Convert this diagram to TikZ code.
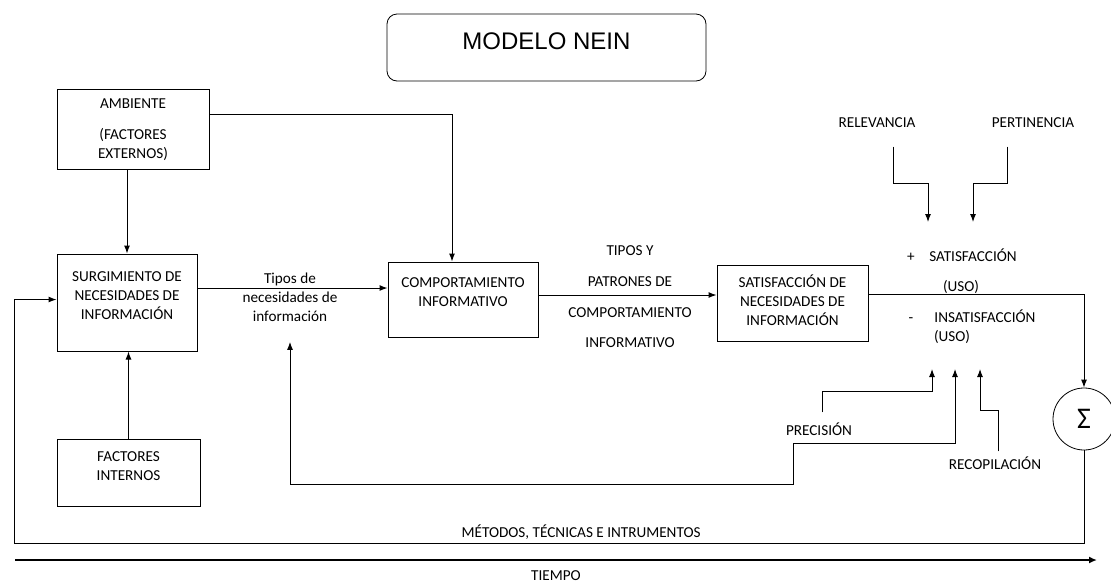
\documentclass[tikz,border=0pt]{standalone}
\usepackage{fontspec}
\setmainfont{Carlito}
\newfontfamily\arialfont{Liberation Sans}
\usepackage{tikz}
\usetikzlibrary{arrows.meta, shapes}

\newcommand{\boxfont}{\fontsize{15.2}{19}\selectfont}

\begin{document}
\begin{tikzpicture}[node distance=2cm, auto]
\tikzstyle{block} = [rectangle, draw, line width=1pt, align=center, font=\boxfont]
\tikzstyle{txt} = [align=center, font=\boxfont]
\tikzstyle{lbl} = [font=\boxfont, text height=10pt, text depth=2pt]
\tikzstyle{line} = [draw, line width=1pt, -{Latex[length=8pt, width=6pt]}]
\tikzstyle{title} = [rectangle, draw, line width=0.8pt, rounded corners=10pt,
    minimum width=319pt, minimum height=67pt, text depth=13pt,
    font=\arialfont\fontsize{24}{28}\selectfont]

\useasboundingbox (0,0) rectangle (1111pt,-582pt);

 \node [title] (titulo) at (546.5pt,-47.5pt) {MODELO NEIN};

 \node [block, minimum width=152pt, minimum height=80pt, text depth=-5pt] (amb) at (133pt,-129pt)
    {AMBIENTE\\[12pt](FACTORES\\EXTERNOS)};
 \node [block, below of=amb, node distance=173.5pt, xshift=-6pt,
    minimum width=140pt, minimum height=97pt, text depth=13pt] (surg)
    {SURGIMIENTO DE\\NECESIDADES DE\\INFORMACIÓN};
 \node [block, below of=surg, node distance=170pt, xshift=1.5pt,
    minimum width=143pt, minimum height=67pt, text depth=12pt] (fint)
    {FACTORES\\INTERNOS};

 \node [block, right of=surg, node distance=336pt, yshift=3pt,
    minimum width=150pt, minimum height=75pt, text depth=15pt] (comp)
    {COMPORTAMIENTO\\INFORMATIVO};
 \node [block, right of=comp, node distance=329.5pt, yshift=-3.5pt,
    minimum width=151pt, minimum height=76pt, text depth=6pt] (sat)
    {SATISFACCIÓN DE\\NECESIDADES DE\\INFORMACIÓN};
 \node [circle, draw, line width=0.8pt, minimum size=62pt, inner sep=0pt,
    right of=sat, node distance=291.5pt, yshift=-116pt,
    font=\fontsize{30}{30}\selectfont] (sigma) {Σ};

 \node [txt, right of=surg, node distance=163pt, yshift=5.5pt] (tipos)
    {Tipos de\\necesidades de\\información};
 \node [txt, right of=comp, node distance=167pt, yshift=2.5pt] (patr)
    {TIPOS Y\\[11.7pt]PATRONES DE\\[11.7pt]COMPORTAMIENTO\\[11.7pt]INFORMATIVO};

 \node [lbl] (relev) at (877pt,-123pt) {RELEVANCIA};
 \node [lbl, right of=relev, node distance=156pt] (pert) {PERTINENCIA};

 \node [lbl] (plus) at (911pt,-257pt) {+};
 \node [lbl, right of=plus, node distance=62pt] (satis) {SATISFACCIÓN};
 \node [lbl, below of=satis, node distance=30pt, xshift=-12pt] (uso1) {(USO)};
 \node [lbl, below of=plus, node distance=61pt] (minus) {-};
 \node [lbl, right of=minus, node distance=74pt] (insat) {INSATISFACCIÓN};
 \node [lbl, below of=insat, node distance=19pt, xshift=-33pt] (uso2) {(USO)};

 \node [lbl] (precis) at (819pt,-431pt) {PRECISIÓN};
 \node [lbl] (recop) at (995pt,-465pt) {RECOPILACIÓN};

 \coordinate (tipRel) at (928pt,-222pt);
 \coordinate (tipPer) at (973pt,-222pt);
 \coordinate (tipPre) at (932pt,-369pt);
 \coordinate (tipMid) at (955pt,-369pt);
 \coordinate (tipRec) at (980pt,-369pt);
 \coordinate (stepMid) at (793pt,-484pt);
 \coordinate (loopc) at (14pt,-543pt);
 \coordinate (t0) at (15pt,-560pt);
 \coordinate (t1) at (1097pt,-560pt);

 \path [line] (amb.south -| surg) -- (surg);
 \path [line] ([yshift=15pt]amb.east) -| ([xshift=-11pt]comp.north);
 \path [line] (fint) -- (fint |- surg.south);

 \path [line] ([yshift=14.5pt]surg.east) -- ([yshift=11.5pt]comp.west);
 \path [line] ([yshift=4.5pt]comp.east) -- ([yshift=8pt]sat.west);
 \path [line] ([yshift=9pt]sat.east) -| (sigma);

 \path [line] (sigma) |- node [above, pos=0.735, font=\boxfont] {MÉTODOS, TÉCNICAS E INTRUMENTOS} (loopc)
    |- ([yshift=3pt]surg.west);

 \path [line] ([xshift=16pt,yshift=-14pt]relev.south) |- ([yshift=39pt]tipRel) -- (tipRel);
 \path [line] ([xshift=-26pt,yshift=-14pt]pert.south) |- ([yshift=39pt]tipPer) -- (tipPer);

 \path [line] ([xshift=3pt,yshift=9pt]precis.north) |- ([yshift=-22pt]tipPre) -- (tipPre);
 \path [line] ([xshift=3pt,yshift=4pt]recop.north) |- ([yshift=-41pt]tipRec) -- (tipRec);
 \path [line, {Latex[length=8pt, width=6pt]}-{Latex[length=8pt, width=6pt]}]
    ([yshift=-17pt]tipos.south) |- (stepMid) |- ([yshift=-74pt]tipMid) -- (tipMid);

 \draw [line width=2pt, -{Latex[length=8pt, width=7pt]}] (t0) -- node [below, yshift=-6pt, font=\boxfont] {TIEMPO} (t1);
\end{tikzpicture}
\end{document}
